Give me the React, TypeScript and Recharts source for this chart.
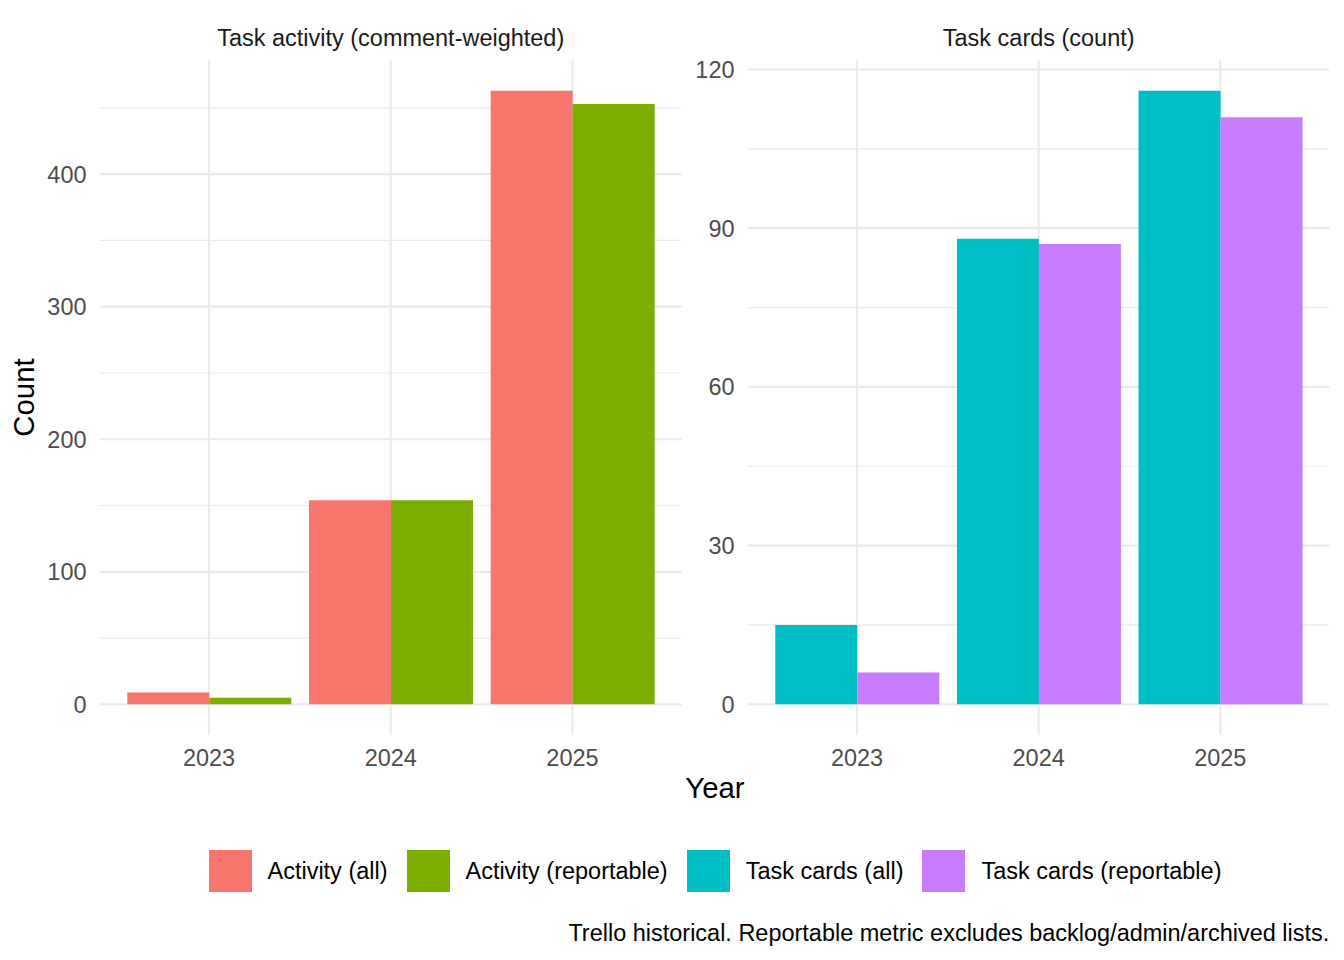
import React from "react";
import { Bar, BarChart, CartesianGrid, XAxis, YAxis } from "recharts";

const YEARS = ["2023", "2024", "2025"];
const ACTIVITY_ALL = [9, 154, 463];
const ACTIVITY_REPORTABLE = [5, 154, 453];
const CARDS_ALL = [15, 88, 116];
const CARDS_REPORTABLE = [6, 87, 111];

const ACTIVITY_TICKS = [0, 100, 200, 300, 400];
const ACTIVITY_MINOR = [50, 150, 250, 350, 450];
const CARDS_TICKS = [0, 30, 60, 90, 120];
const CARDS_MINOR = [15, 45, 75, 105];

const LEGEND = [
  { label: "Activity (all)", color: "#F8766D" },
  { label: "Activity (reportable)", color: "#7CAE00" },
  { label: "Task cards (all)", color: "#00BFC4" },
  { label: "Task cards (reportable)", color: "#C77CFF" },
];

const FONT = '"Liberation Sans", Arial, sans-serif';
const SMALL = 23.47;
const LARGE = 29.33;
const GRID = "#EBEBEB";

// ggplot-style 5% expansion above and below the data
function expand(values: number[]): [number, number] {
  const max = Math.max(...values);
  return [-max * 0.05, max * 1.05];
}

function Panel({
  all,
  reportable,
  ticks,
  minor,
  colors,
  left,
  width,
  axisWidth,
  rightMargin,
}: {
  all: number[];
  reportable: number[];
  ticks: number[];
  minor: number[];
  colors: [string, string];
  left: number;
  width: number;
  axisWidth: number;
  rightMargin: number;
}) {
  const data = YEARS.map((year, i) => ({
    year,
    all: all[i],
    reportable: reportable[i],
  }));
  const domain = expand([...all, ...reportable]);
  const tickStyle = { fill: "#4D4D4D", fontSize: SMALL, fontFamily: FONT };

  return (
    <div style={{ position: "absolute", left, top: 0 }}>
      <BarChart
        width={width}
        height={800}
        data={data}
        margin={{ top: 60, right: rightMargin, left: 0, bottom: 25 }}
        barCategoryGap="5%"
        barGap={0}
      >
        <CartesianGrid
          stroke={GRID}
          strokeWidth={1.2}
          vertical={false}
          horizontalValues={minor}
          syncWithTicks
        />
        <CartesianGrid stroke={GRID} strokeWidth={2.2} syncWithTicks />
        <XAxis
          dataKey="year"
          type="category"
          axisLine={false}
          tickLine={false}
          tickSize={0}
          tickMargin={14.3}
          height={40}
          padding={{ left: 18.2, right: 18.2 }}
          tick={tickStyle}
        />
        <YAxis
          type="number"
          domain={domain}
          allowDataOverflow
          ticks={ticks}
          axisLine={false}
          tickLine={false}
          tickSize={0}
          tickMargin={13.5}
          width={axisWidth}
          tick={tickStyle}
        />
        <Bar dataKey="all" fill={colors[0]} isAnimationActive={false} />
        <Bar dataKey="reportable" fill={colors[1]} isAnimationActive={false} />
      </BarChart>
    </div>
  );
}

export default function App() {
  return (
    <div
      style={{
        position: "absolute",
        left: 0,
        top: 0,
        width: 1344,
        height: 960,
        background: "#FFFFFF",
        fontFamily: FONT,
      }}
    >
      <Panel
        all={ACTIVITY_ALL}
        reportable={ACTIVITY_REPORTABLE}
        ticks={ACTIVITY_TICKS}
        minor={ACTIVITY_MINOR}
        colors={[LEGEND[0].color, LEGEND[1].color]}
        left={0}
        width={690}
        axisWidth={100}
        rightMargin={8.5}
      />
      <Panel
        all={CARDS_ALL}
        reportable={CARDS_REPORTABLE}
        ticks={CARDS_TICKS}
        minor={CARDS_MINOR}
        colors={[LEGEND[2].color, LEGEND[3].color]}
        left={660}
        width={684}
        axisWidth={88}
        rightMargin={14.7}
      />

      <svg
        width={1344}
        height={960}
        style={{ position: "absolute", left: 0, top: 0, pointerEvents: "none" }}
      >
        <text x={390.75} y={46} textAnchor="middle" fontSize={SMALL} fontFamily={FONT} fill="#1A1A1A">
          Task activity (comment-weighted)
        </text>
        <text x={1038.7} y={46} textAnchor="middle" fontSize={SMALL} fontFamily={FONT} fill="#1A1A1A">
          Task cards (count)
        </text>
        <text
          x={0}
          y={0}
          transform="translate(33.5 397.5) rotate(-90)"
          textAnchor="middle"
          fontSize={LARGE}
          fontFamily={FONT}
          fill="#000000"
        >
          Count
        </text>
        <text x={715} y={797.5} textAnchor="middle" fontSize={LARGE} fontFamily={FONT} fill="#000000">
          Year
        </text>
        <text x={1329.3} y={940.5} textAnchor="end" fontSize={SMALL} fontFamily={FONT} fill="#000000">
          Trello historical. Reportable metric excludes backlog/admin/archived lists.
        </text>
      </svg>

      <div
        style={{
          position: "absolute",
          left: 0,
          top: 850,
          width: 1430,
          height: 42,
          display: "flex",
          justifyContent: "center",
          alignItems: "center",
        }}
      >
        {LEGEND.map((item, i) => (
          <div
            key={item.label}
            style={{
              display: "flex",
              alignItems: "center",
              marginRight: i < LEGEND.length - 1 ? 19 : 0,
            }}
          >
            <div style={{ width: 43, height: 42, background: item.color }} />
            <span
              style={{
                marginLeft: 16,
                fontSize: SMALL,
                lineHeight: "42px",
                color: "#000000",
                whiteSpace: "nowrap",
              }}
            >
              {item.label}
            </span>
          </div>
        ))}
      </div>
    </div>
  );
}
